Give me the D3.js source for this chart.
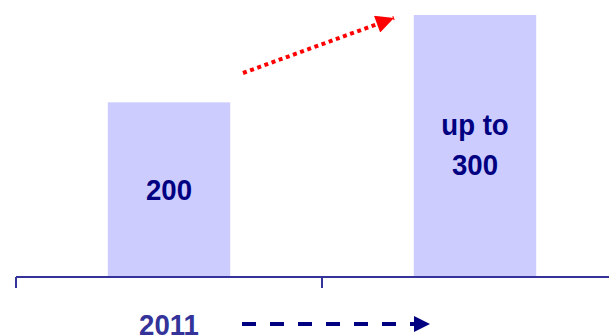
<!DOCTYPE html>
<html>
<head>
<meta charset="utf-8">
<script src="https://cdn.jsdelivr.net/npm/d3@7"></script>
<style>
  html, body { margin: 0; padding: 0; background: #fff; }
  svg { display: block; }
</style>
</head>
<body>
<script>
// Capacity comparison: current vs. planned
const categories = ["current", "planned"];
const values = [200, 300];
const barLabels = [["200"], ["up to", "300"]];
const yearLabel = "2011";

const W = 609, H = 336;
const svg = d3.select("body").append("svg").attr("width", W).attr("height", H);

const defs = svg.append("defs");
defs.append("marker").attr("id", "headRed")
  .attr("viewBox", "0 0 10 10").attr("refX", 10).attr("refY", 5)
  .attr("markerWidth", 5).attr("markerHeight", 4.5).attr("markerUnits", "strokeWidth")
  .attr("orient", "auto")
  .append("path").attr("d", "M0,0L10,5L0,10Z").attr("fill", "#ff0000");
defs.append("marker").attr("id", "headBlue")
  .attr("viewBox", "0 0 10 10").attr("refX", 10).attr("refY", 5)
  .attr("markerWidth", 5).attr("markerHeight", 4).attr("markerUnits", "strokeWidth")
  .attr("orient", "auto")
  .append("path").attr("d", "M0,0L10,5L0,10Z").attr("fill", "#000080");

const x = d3.scaleBand().domain(categories).range([16, 628]).padding(0);
const y = d3.scaleLinear().domain([0, 300]).range([277, 15]);
const barW = x.bandwidth() * 0.4;

// bars
svg.selectAll("rect.bar").data(values).join("rect")
  .attr("class", "bar")
  .attr("x", (d, i) => x(categories[i]) + (x.bandwidth() - barW) / 2)
  .attr("width", barW)
  .attr("y", d => y(d))
  .attr("height", d => y(0) - y(d))
  .attr("fill", "#ccccff");

// axis with category boundary ticks
const axisColor = "#333399";
svg.append("line")
  .attr("x1", x.range()[0]).attr("x2", W)
  .attr("y1", y(0)).attr("y2", y(0))
  .attr("stroke", axisColor).attr("stroke-width", 2);
svg.selectAll("line.tick").data(categories).join("line")
  .attr("class", "tick")
  .attr("x1", d => x(d)).attr("x2", d => x(d))
  .attr("y1", y(0)).attr("y2", y(0) + 11)
  .attr("stroke", axisColor).attr("stroke-width", 2);

// bold label, slightly condensed horizontally
const labelFont = "Liberation Sans, Arial, sans-serif";
function label(cx, by, t, color) {
  svg.append("text")
    .attr("transform", `translate(${cx},${by}) scale(0.92,1)`)
    .attr("text-anchor", "middle")
    .attr("font-family", labelFont)
    .attr("font-weight", "bold")
    .attr("font-size", 30)
    .attr("fill", color)
    .text(t);
}

// value labels inside bars
const labelBase = [y(0) - 77, y(0) - 142];
barLabels.forEach((lines, i) => {
  const cx = x(categories[i]) + x.bandwidth() / 2;
  lines.forEach((t, j) => label(cx, labelBase[i] + j * 40, t, "#000080"));
});

// growth arrow between the bars
svg.append("line")
  .attr("x1", 243).attr("y1", 73)
  .attr("x2", 394).attr("y2", 18)
  .attr("stroke", "#ff0000").attr("stroke-width", 4)
  .attr("stroke-dasharray", "4,3.6")
  .attr("marker-end", "url(#headRed)");

// year label and time arrow
label(169, 335, yearLabel, "#333399");

svg.append("line")
  .attr("x1", 242).attr("y1", 324)
  .attr("x2", 430).attr("y2", 324)
  .attr("stroke", "#000080").attr("stroke-width", 4)
  .attr("stroke-dasharray", "14,14")
  .attr("marker-end", "url(#headBlue)");
</script>
</body>
</html>
